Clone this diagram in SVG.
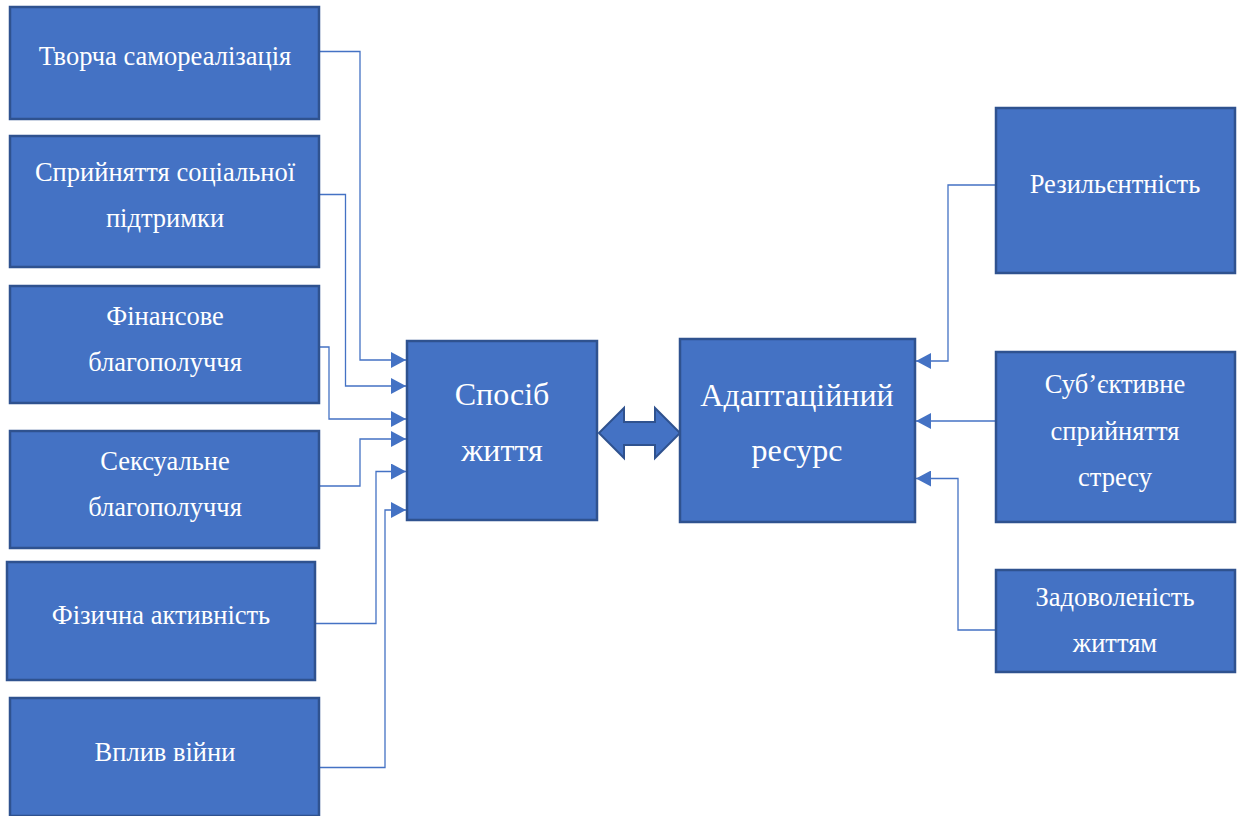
<svg xmlns="http://www.w3.org/2000/svg" width="1243" height="816" viewBox="0 0 1243 816">
<defs>
<style>
.box{fill:#4472C4;stroke:#2F528F;stroke-width:2.5}
.t{font-family:'Liberation Serif','DejaVu Serif',serif;font-size:26.5px;fill:#ffffff;text-anchor:middle}
.tb{font-family:'Liberation Serif','DejaVu Serif',serif;font-size:32px;fill:#ffffff;text-anchor:middle}
.c{fill:none;stroke:#4472C4;stroke-width:1.3}
</style>
<marker id="ah" markerWidth="15" markerHeight="16" refX="15" refY="8" orient="auto" markerUnits="userSpaceOnUse">
<path d="M0,0 L15,8 L0,16 Z" fill="#4472C4"/>
</marker>
</defs>
<rect width="1243" height="816" fill="#ffffff"/>
<g id="connectors">
<path class="c" d="M319,51.5 H360 V360 H406" marker-end="url(#ah)"/>
<path class="c" d="M319,194.5 H345.5 V386 H406" marker-end="url(#ah)"/>
<path class="c" d="M319,347 H329 V419 H406" marker-end="url(#ah)"/>
<path class="c" d="M319,486 H360 V439 H406" marker-end="url(#ah)"/>
<path class="c" d="M315,623.5 H376 V471.5 H406" marker-end="url(#ah)"/>
<path class="c" d="M319,767.5 H385 V510 H406" marker-end="url(#ah)"/>
<path class="c" d="M996,185 H948 V361 H916" marker-end="url(#ah)"/>
<path class="c" d="M996,421 H916" marker-end="url(#ah)"/>
<path class="c" d="M996,630 H958 V478.5 H916" marker-end="url(#ah)"/>
<polygon id="double-arrow" points="599,433 624,408 624,422 655,422 655,408 680,433 655,458 655,445 624,445 624,458" fill="#4472C4" stroke="#2F528F" stroke-width="2"/>
</g>
<g id="n1"><rect class="box" x="10" y="7" width="309" height="112"/><text class="t" x="165" y="65">Творча самореалізація</text></g>
<g id="n2"><rect class="box" x="10" y="136" width="309" height="131"/><text class="t" x="165" y="181">Сприйняття соціальної</text><text class="t" x="165" y="226.5">підтримки</text></g>
<g id="n3"><rect class="box" x="10" y="286" width="309" height="117"/><text class="t" x="165" y="325">Фінансове</text><text class="t" x="165" y="370.5">благополуччя</text></g>
<g id="n4"><rect class="box" x="10" y="431" width="309" height="117"/><text class="t" x="165" y="470">Сексуальне</text><text class="t" x="165" y="515.5">благополуччя</text></g>
<g id="n5"><rect class="box" x="7" y="562" width="308" height="118"/><text class="t" x="161" y="624">Фізична активність</text></g>
<g id="n6"><rect class="box" x="10" y="698" width="309" height="118"/><text class="t" x="165" y="761">Вплив війни</text></g>
<g id="n7"><rect class="box" x="407" y="341" width="190" height="179"/><text class="tb" x="502" y="405">Спосіб</text><text class="tb" x="502" y="460.5">життя</text></g>
<g id="n8"><rect class="box" x="680" y="339" width="235" height="183"/><text class="tb" x="797" y="406">Адаптаційний</text><text class="tb" x="797" y="460.5">ресурс</text></g>
<g id="n9"><rect class="box" x="996" y="108" width="239" height="165"/><text class="t" x="1115" y="193">Резильєнтність</text></g>
<g id="n10"><rect class="box" x="996" y="352" width="239" height="170"/><text class="t" x="1115" y="393">Суб’єктивне</text><text class="t" x="1115" y="440">сприйняття</text><text class="t" x="1115" y="486">стресу</text></g>
<g id="n11"><rect class="box" x="996" y="570" width="239" height="102"/><text class="t" x="1115" y="606">Задоволеність</text><text class="t" x="1115" y="652">життям</text></g>
</svg>
